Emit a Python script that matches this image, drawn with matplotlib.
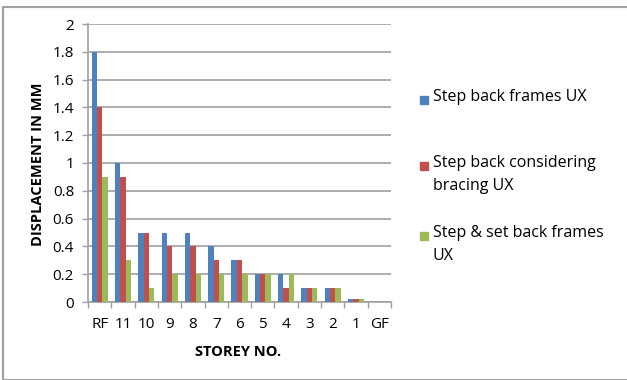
import numpy as np
import matplotlib
matplotlib.use("Agg")
import matplotlib.pyplot as plt
from matplotlib.patches import Rectangle

plt.rcParams['font.family'] = ['Open Sans', 'DejaVu Sans']

storeys = ['RF', '11', '10', '9', '8', '7', '6', '5', '4', '3', '2', '1', 'GF']
step_back = [1.8, 1.0, 0.5, 0.5, 0.5, 0.4, 0.3, 0.2, 0.2, 0.1, 0.1, 0.02, 0]
step_back_bracing = [1.4, 0.9, 0.5, 0.4, 0.4, 0.3, 0.3, 0.2, 0.1, 0.1, 0.1, 0.02, 0]
step_set_back = [0.9, 0.3, 0.1, 0.2, 0.2, 0.2, 0.2, 0.2, 0.2, 0.1, 0.1, 0.02, 0]

series = [
    ('Step back frames UX', step_back, '#4F81BD'),
    ('Step back considering\nbracing UX', step_back_bracing, '#C0504D'),
    ('Step & set back frames\nUX', step_set_back, '#9BBB59'),
]

W, H = 627, 380
fig = plt.figure(figsize=(W / 100, H / 100), dpi=100)
ax = fig.add_axes([88 / W, 1 - 302 / H, (391 - 88) / W, (302 - 24) / H])

x = np.arange(len(storeys))
w = 0.23
for i, (name, vals, col) in enumerate(series):
    ax.bar(x + (i - 1) * w, vals, w, color=col, label=name, zorder=3)

ax.set_xlim(-0.5, len(storeys) - 0.5)
ax.set_ylim(0, 2)
ax.set_yticks(np.arange(0, 2.01, 0.2))
ax.set_yticklabels(['0', '0.2', '0.4', '0.6', '0.8', '1', '1.2', '1.4', '1.6', '1.8', '2'])
ax.set_xticks(x)
ax.set_xticklabels(storeys)
ax.set_xticks(np.arange(-0.5, len(storeys)), minor=True)
ax.tick_params(axis='x', which='major', length=0, labelsize=11, pad=11)
ax.tick_params(axis='x', which='minor', length=4, color='#A0A0A0', width=1)
ax.tick_params(axis='y', length=4, color='#A0A0A0', width=1, labelsize=11, pad=6)

ax.grid(axis='y', color='#A0A0A0', linewidth=1.2, zorder=0)
for s in ['top', 'right']:
    ax.spines[s].set_visible(False)
for s in ['left', 'bottom']:
    ax.spines[s].set_color('#A0A0A0')
    ax.spines[s].set_linewidth(1.2)

fig.text(38 / W, 1 - 164 / H, 'DISPLACEMENT IN MM', rotation=90, ha='center', va='center',
         fontsize=10.5, fontweight='bold')
fig.text(238 / W, 1 - 352 / H, 'STOREY NO.', ha='center', va='center',
         fontsize=10.5, fontweight='bold')

# legend: square aligned with the first line of each entry
legend_rows = [100, 166, 236]
for (name, vals, col), y0 in zip(series, legend_rows):
    fig.add_artist(Rectangle((420 / W, 1 - (y0 + 4) / H), 8 / W, 8 / H,
                             transform=fig.transFigure, color=col))
    fig.text(433 / W, 1 - (y0 - 11) / H, name, ha='left', va='top',
             fontsize=11.5, linespacing=1.55)

# chart area frame
fig.add_artist(Rectangle((3 / W, 0), 1, 1 - 7 / H, transform=fig.transFigure,
                         fill=False, edgecolor='#A0A0A0', linewidth=1.5))

fig.savefig('out.png', dpi=100)
